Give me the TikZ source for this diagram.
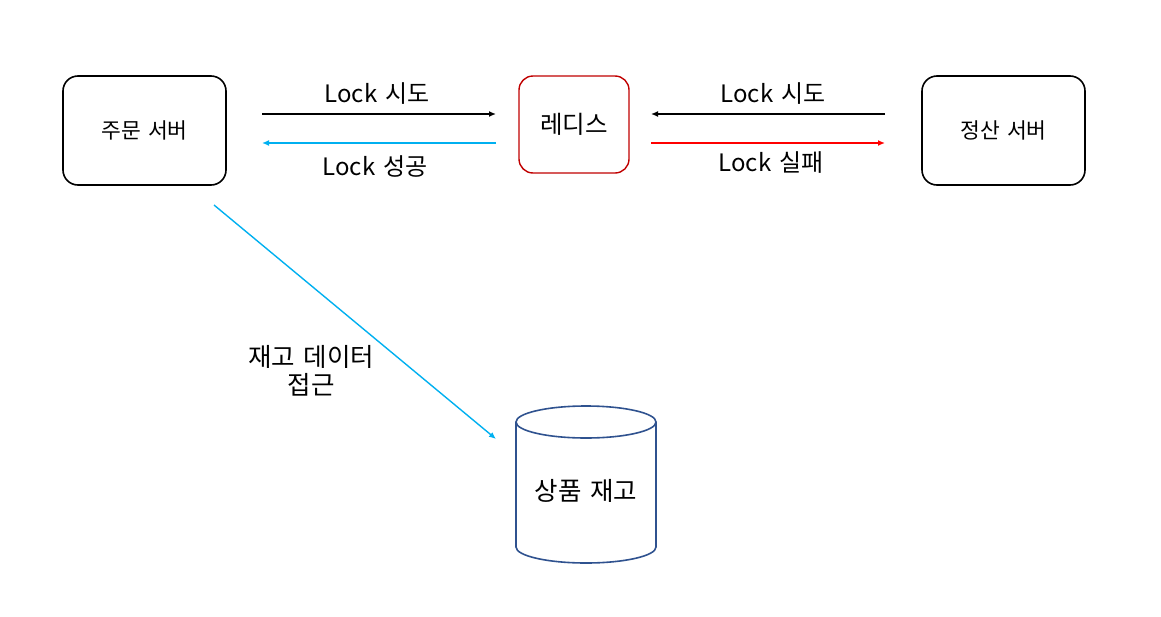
\documentclass[tikz,border=0pt]{standalone}
\usepackage{fontspec}
\setmainfont[WordSpace=1.5]{Noto Sans CJK KR}
\usetikzlibrary{arrows.meta}
\definecolor{lockred}{HTML}{C00000}
\definecolor{failred}{HTML}{FF0000}
\definecolor{okcyan}{HTML}{00B0F0}
\definecolor{dbblue}{HTML}{2F528F}
\tikzset{
  server/.style={draw=black, line width=1.6pt, rounded corners=15pt, minimum width=163pt, minimum height=109pt, inner sep=0pt, font=\fontsize{21.5}{25}\selectfont},
  redis/.style={draw=lockred, line width=1.4pt, rounded corners=14pt, minimum width=110pt, minimum height=97pt, inner sep=0pt, font=\fontsize{24.5}{28}\selectfont},
  msg/.style={line width=1.4pt, -{Latex[length=7pt,width=6pt]}},
  lbl/.style={inner sep=0pt, font=\fontsize{24}{28}\selectfont, align=center},
  biglbl/.style={inner sep=0pt, font=\fontsize{25.5}{28}\selectfont, align=center}
}
\begin{document}
\begin{tikzpicture}[x=1pt,y=-1pt]
\useasboundingbox (0,0) rectangle (1161,616);
\node[server] (order) at (144.5,130.5) {주문 서버};
\node[redis] (redis) at (574,124.5) {레디스};
\node[server] (settle) at (1003.5,130.5) {정산 서버};
% left arrows
\coordinate (oA) at (262,114);
\coordinate (rA) at (496,114);
\coordinate (oB) at (262,143);
\coordinate (rB) at (496,143);
\draw[msg, black] (oA) -- (rA);
\draw[msg, okcyan] (rB) -- (oB);
\node[lbl] (l1) at (377,94) {Lock 시도};
\node[lbl] (l2) at (375,166) {Lock 성공};
% right arrows
\coordinate (sA) at (885,114);
\coordinate (rC) at (651,114);
\coordinate (sB) at (885,143);
\coordinate (rD) at (651,143);
\draw[msg, black] (sA) -- (rC);
\draw[msg, failred] (rD) -- (sB);
\node[lbl] (l3) at (773,94) {Lock 시도};
\node[lbl] (l4) at (771,163) {Lock 실패};
% database cylinder
\draw[dbblue, line width=1.6pt] (516,422) -- (516,547) arc[start angle=180, end angle=360, x radius=70, y radius=-16] -- (656,422);
\draw[dbblue, line width=1.6pt] (586,422) ellipse[x radius=70, y radius=16];
\node[biglbl] (db) at (586,491) {상품 재고};
% diagonal
\coordinate (dS) at (214,205);
\coordinate (dE) at (496,439);
\draw[msg, okcyan] (dS) -- (dE);
\node[biglbl] (l5) at (311,371) {재고 데이터\\접근};
\end{tikzpicture}
\end{document}
